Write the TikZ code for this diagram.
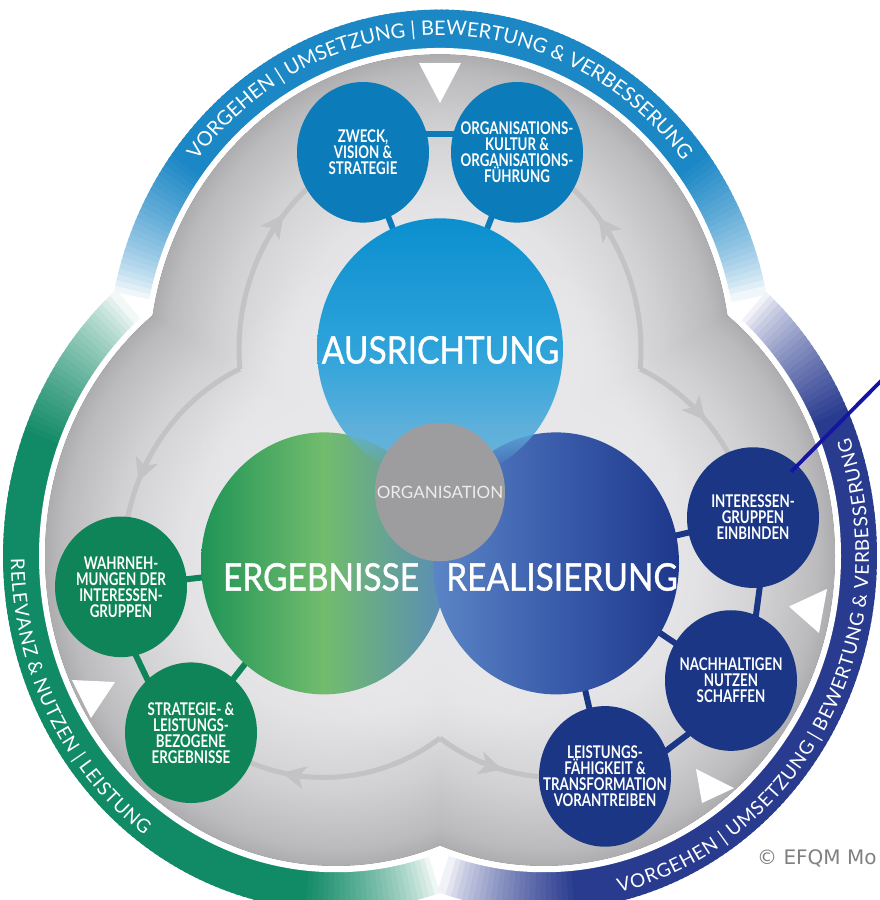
\documentclass[tikz,border=0pt]{standalone}
\usepackage{fontspec}
\usetikzlibrary{shapes.geometric,arrows.meta,decorations.text,fadings,calc}
\newfontfamily\efqmBigFont[FakeStretch=0.88,FakeBold=1]{Lato}
\newfontfamily\efqmSmallFont[FakeStretch=0.76]{Lato}
\newfontfamily\efqmPlainFont{Lato}
\newfontfamily\efqmCopyFont{DejaVu Sans}
\newcommand\efqmBig{\efqmBigFont\fontsize{38}{38}\selectfont}
\newcommand\efqmSmall{\efqmSmallFont\bfseries\fontsize{17.5}{16}\selectfont}
\newcommand\efqmOrg{\efqmPlainFont\fontsize{17}{17}\selectfont}
\newcommand\efqmRing{\efqmPlainFont\fontsize{20}{20}\selectfont}
\newcommand\efqmRingS{\efqmPlainFont\fontsize{19}{19}\selectfont}
\newcommand\efqmCopy{\efqmCopyFont\fontsize{20}{20}\selectfont}
\newcommand\ek{\kern0.8pt}

\definecolor{ringTop}{HTML}{1B87C5}
\definecolor{ringBL}{HTML}{118A66}
\definecolor{ringBR}{HTML}{293B8F}
\definecolor{lobeA}{HTML}{ECECEE}
\definecolor{lobeB}{HTML}{E3E3E5}
\definecolor{lobeC}{HTML}{D1D1D3}
\definecolor{lobeD}{HTML}{BBBBBD}
\definecolor{lobeE}{HTML}{ADADAF}
\definecolor{glowC}{HTML}{EAEAEC}
\definecolor{arrGray}{HTML}{C3C3C5}
\definecolor{ausTop}{HTML}{0B8FCF}
\definecolor{ausMid}{HTML}{2EA3DA}
\definecolor{ausBot}{HTML}{7AB8DC}
\definecolor{ergL}{HTML}{1F9456}
\definecolor{ergM}{HTML}{72BC6D}
\definecolor{ergR}{HTML}{5A8CB8}
\definecolor{realL}{HTML}{5B85C6}
\definecolor{realM}{HTML}{3A5CAB}
\definecolor{realR}{HTML}{1E388B}
\definecolor{orgGray}{HTML}{9D9D9F}
\definecolor{orgText}{HTML}{ECECEC}
\definecolor{smTop}{HTML}{0C7BB9}
\definecolor{smR}{HTML}{1A3685}
\definecolor{smL}{HTML}{0F8458}
\definecolor{blueLine}{HTML}{1515A3}
\definecolor{copyGray}{HTML}{808080}

\pgfdeclareradialshading{lobeshade}{\pgfpointorigin}{color(0bp)=(lobeA); color(13bp)=(lobeB); color(19bp)=(lobeC); color(23.5bp)=(lobeD); color(25bp)=(lobeE); color(50bp)=(lobeE)}
\tikzfading[name=fadeS, top color=transparent!0, bottom color=transparent!100]

% ring band: #1,#2 centre; #3<#4 angles; #5 colour; #6,#7 fade widths
\newcommand{\efqmBand}[7]{%
  \pgfmathsetmacro\efstep{(#4-(#3))/160}%
  \foreach \efi in {0,...,159}{%
    \pgfmathsetmacro\efta{#3+\efstep*\efi}%
    \pgfmathsetmacro\eftb{#3+\efstep*(\efi+1.5)}%
    \pgfmathsetmacro\eftm{#3+\efstep*(\efi+0.5)}%
    \pgfmathsetmacro\efw{100*pow(min(1,(\eftm-(#3))/(#6),((#4)-\eftm)/(#7)),0.7)}%
    \fill[#5!\efw!white] ({#1+295*cos(\efta)},{#2+295*sin(\efta)}) -- ({#1+333*cos(\efta)},{#2+333*sin(\efta)}) -- ({#1+333*cos(\eftb)},{#2+333*sin(\eftb)}) -- ({#1+295*cos(\eftb)},{#2+295*sin(\eftb)}) -- cycle;
  }}

\begin{document}
\begin{tikzpicture}[x=1pt,y=-1.065pt,
  bigc/.style={ellipse, minimum width=246pt, minimum height=262pt, inner sep=0pt},
  smallc/.style={ellipse, minimum width=132pt, minimum height=140.6pt, inner sep=0pt},
  smalltext/.style={inner sep=0pt, text=white, align=center, font=\efqmSmall},
  biglabel/.style={inner sep=0pt, text=white, font=\efqmBig},
  grayarc/.style={draw=arrGray, line width=5pt},
  grayhead/.style={draw=arrGray, line width=5pt, -{Stealth[length=23pt,width=23pt,inset=6pt]}},
  conn/.style={line width=6pt},
  ringtext/.style={decorate, decoration={text along path, text format delimiters={[}{]}, text align=center, text color=white}}
]
\useasboundingbox (0,0) rectangle (879,845.07);

% ---- coloured rings
\efqmBand{440}{342}{191.8}{348.2}{ringTop}{25}{25}
\efqmBand{336}{522}{71.8}{228.2}{ringBL}{24}{28}
\efqmBand{544}{522}{-48.2}{108.2}{ringBR}{24}{24}

% ---- white gaps and grey lobes
\fill[white] (440,342) circle[radius=297];
\fill[white] (336,522) circle[radius=297];
\fill[white] (544,522) circle[radius=297];
\fill[lobeE!60!black] (440,342) circle[radius=291];
\fill[lobeE!60!black] (336,522) circle[radius=291];
\fill[lobeE!60!black] (544,522) circle[radius=291];
\begin{scope}[blend mode=lighten]
\shade[shading=lobeshade] (440,342) circle[radius=291];
\shade[shading=lobeshade] (336,522) circle[radius=291];
\shade[shading=lobeshade] (544,522) circle[radius=291];
\end{scope}
\fill[glowC, fill opacity=0.5, path fading=circle with fuzzy edge 20 percent] (440,462) circle[radius=250];

% ---- white triangles
\fill[white] (419,59.2) -- (461,59.2) -- (440,96.7) -- cycle;
\fill[white] (827,553) -- (789,569.5) -- (819,594.4) -- cycle;
\fill[white] (696,722) -- (734,740) -- (702,754) -- cycle;
\fill[white] (72,638.5) -- (115,640.4) -- (91,674.2) -- cycle;

% ---- centres
\coordinate (cA) at (440,328);
\coordinate (cE) at (324,529);
\coordinate (cR) at (556,529);
\coordinate (cO) at (440,462);
\coordinate (cZ1) at (363,143);
\coordinate (cZ2) at (517,143);
\coordinate (cR1) at (753,486);
\coordinate (cR2) at (731,639);
\coordinate (cR3) at (605,729);
\coordinate (cL1) at (121,551);
\coordinate (cL2) at (191,688);
\coordinate (K1) at ($(cA)+(174.75:201)$);
\coordinate (K2) at ($(cA)+(5.25:201)$);
\coordinate (K3) at ($(cE)+(54.75:201)$);

% ---- grey cycle arrows
\draw[grayarc] (K1) arc[start angle=174.75, end angle=247.4, radius=201];
\draw[grayarc] (K2) arc[start angle=5.25, end angle=-67.4, radius=201];
\draw[grayarc] (K1) arc[start angle=245.25, end angle=173.8, radius=201];
\draw[grayarc] (K2) arc[start angle=-65.25, end angle=-12.3, radius=201];
\draw[grayarc] (K3) arc[start angle=54.75, end angle=129.9, radius=201];
\draw[grayarc] (K3) arc[start angle=125.25, end angle=76.2, radius=201];
\draw[grayhead] ($(cA)+(212:201)$) arc[start angle=212, end angle=219, radius=201];
\draw[grayhead] ($(cE)+(209:201)$) arc[start angle=209, end angle=202.5, radius=201];
\draw[grayhead] ($(cA)+(-31:201)$) arc[start angle=-31, end angle=-38, radius=201];
\draw[grayhead] ($(cR)+(-49:201)$) arc[start angle=-49, end angle=-42, radius=201];
\draw[grayhead] ($(cE)+(95:201)$) arc[start angle=95, end angle=102, radius=201];
\draw[grayhead] ($(cR)+(112:201)$) arc[start angle=112, end angle=105.5, radius=201];

% ---- connectors
\draw[conn, smTop] (cZ1) -- (cA);
\draw[conn, smTop] (cZ2) -- (cA);
\draw[conn, smTop] ($(cZ1)+(0,-17)$) -- ($(cZ2)+(0,-17)$);
\draw[conn, smL] (cL1) -- (cE);
\draw[conn, smL] (cL2) -- (cE);
\draw[conn, smL] ($(cL1)+(-14.3,7.3)$) -- ($(cL2)+(-14.3,7.3)$);
\draw[conn, smR] (cR1) -- (cR);
\draw[conn, smR] (cR2) -- (cR);
\draw[conn, smR] (cR3) -- (cR);
\draw[conn, smR] ($(cR1)+(15.8,2.3)$) -- ($(cR2)+(15.8,2.3)$);
\draw[conn, smR] ($(cR2)+(9.3,13)$) -- ($(cR3)+(9.3,13)$);

% ---- big circles
\node[bigc, top color=ausTop, bottom color=ausBot, middle color=ausMid] (A) at (cA) {};
\node[bigc, left color=ergL, right color=ergR, middle color=ergM] (E) at (cE) {};
\node[bigc, left color=realL, right color=realR, middle color=realM] (R) at (cR) {};
\begin{scope}
  \clip (cA) circle[radius=123];
  \fill[ausMid!35!ausBot, path fading=fadeS] (300,398) rectangle (580,440);
\end{scope}
\node[ellipse, minimum width=130pt, minimum height=138.5pt, inner sep=0pt, fill=orgGray] (O) at (cO) {};
\node[inner sep=0pt, text=orgText, font=\efqmOrg] (tO) at (cO) {ORGANISATION};

% ---- small circles
\node[smallc, fill=smTop] (Z1) at (cZ1) {};
\node[smallc, fill=smTop] (Z2) at (cZ2) {};
\node[smallc, fill=smR] (R1) at (cR1) {};
\node[smallc, fill=smR] (R2) at (cR2) {};
\node[smallc, fill=smR] (R3) at (cR3) {};
\node[smallc, fill=smL] (L1) at (cL1) {};
\node[smallc, fill=smL] (L2) at (cL2) {};
\node[smalltext] (tZ1) at (cZ1) {ZWECK,\\VISION \&\\STRATEGIE};
\node[smalltext] (tZ2) at (cZ2) {ORGANISATIONS-\\KULTUR \&\\ORGANISATIONS-\\FÜHRUNG};
\node[smalltext] (tR1) at (cR1) {INTERESSEN-\\GRUPPEN\\EINBINDEN};
\node[smalltext] (tR2) at (cR2) {NACHHALTIGEN\\NUTZEN\\SCHAFFEN};
\node[smalltext] (tR3) at (cR3) {LEISTUNGS-\\FÄHIGKEIT \&\\TRANSFORMATION\\VORANTREIBEN};
\node[smalltext] (tL1) at (cL1) {WAHRNEH-\\MUNGEN DER\\INTERESSEN-\\GRUPPEN};
\node[smalltext] (tL2) at (cL2) {STRATEGIE- \&\\LEISTUNGS-\\BEZOGENE\\ERGEBNISSE};

% ---- big labels
\node[biglabel] (tA) at (440.5,328.6) {AUSRICHTUNG};
\node[biglabel] (tE) at (321,541.8) {ERGEBNISSE};
\node[biglabel] (tR) at (562,541.8) {REALISIERUNG};

% ---- ring texts
\path[ringtext, decoration={text={[\efqmRing]VORGEHEN {\textbar} UMSETZUNG {\textbar} BEWERTUNG {\&} VERBESSERUNG}}]
  ({440+309*cos(200)},{342+309*sin(200)}) arc[start angle=200, end angle=340, radius=309];
\path[ringtext, decoration={text={[\efqmRingS]{R\ek}{E\ek}{L\ek}{E\ek}{V\ek}{A\ek}{N\ek}{Z\ek} {\&\ek} {N\ek}{U\ek}{T\ek}{Z\ek}{E\ek}{N\ek} {\textbar\ek} {L\ek}{E\ek}{I\ek}{S\ek}{T\ek}{U\ek}{N\ek}{G}}}]
  ({336+325*cos(195)},{522+325*sin(195)}) arc[start angle=195, end angle=110, radius=325];
\path[ringtext, decoration={text={[\efqmRingS]{V\ek}{O\ek}{R\ek}{G\ek}{E\ek}{H\ek}{E\ek}{N\ek} {\textbar\ek} {U\ek}{M\ek}{S\ek}{E\ek}{T\ek}{Z\ek}{U\ek}{N\ek}{G\ek} {\textbar\ek} {B\ek}{E\ek}{W\ek}{E\ek}{R\ek}{T\ek}{U\ek}{N\ek}{G\ek} {\&\ek} {V\ek}{E\ek}{R\ek}{B\ek}{E\ek}{S\ek}{S\ek}{E\ek}{R\ek}{U\ek}{N\ek}{G}}}]
  ({544+325*cos(120)},{522+325*sin(120)}) arc[start angle=120, end angle=-62, radius=325];

% ---- annotation line and copyright
\coordinate (bluetip) at (883,355.8);
\draw[blueLine, line width=3.8pt] ($(R1.center)+(38,-43)$) -- (bluetip);
\node[anchor=west, inner sep=0pt, text=copyGray, font=\efqmCopy] (copy) at (757,805.6) {© EFQM Mo};
\end{tikzpicture}
\end{document}
